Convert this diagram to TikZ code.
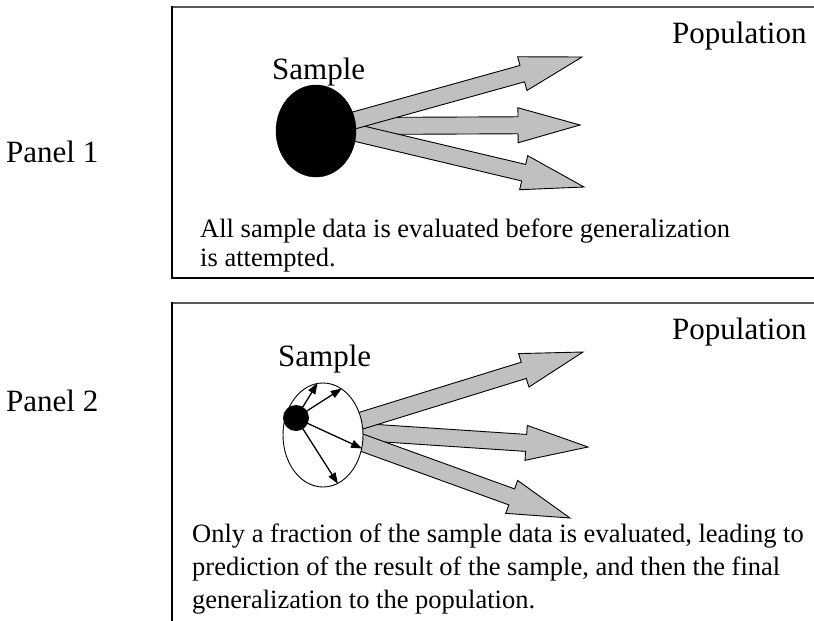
\documentclass[tikz,border=0pt]{standalone}
\usepackage{fontspec}
\setmainfont{Liberation Serif}
\usetikzlibrary{calc,arrows.meta,shapes.geometric}
\tikzset{
  fatarr/.style={draw=black, line width=0.9pt, fill=arrowgray, line join=miter},
  lbltxt/.style={anchor=base west, inner sep=0pt, font=\fontsize{31}{36}\selectfont},
  captxt/.style={anchor=base west, inner sep=0pt, font=\fontsize{26.5}{30}\selectfont},
  topline/.style={line width=2.2pt, draw=black!65},
  sideline/.style={line width=1.2pt, draw=black},
  thinarr/.style={line width=1.3pt, -{Triangle[length=11pt,width=8pt]}},
}
\definecolor{arrowgray}{HTML}{C0C0C0}
\newcommand\fatarrow[2]{%
  \coordinate (hb) at ($(#2)!62pt!(#1)$);
  \draw[fatarr] ($(#1)!8.5pt!90:(#2)$) -- ($(hb)!8.5pt!-90:(#1)$) -- ($(hb)!17.5pt!-90:(#1)$) -- (#2)
     -- ($(hb)!17.5pt!90:(#1)$) -- ($(hb)!8.5pt!90:(#1)$) -- ($(#1)!8.5pt!-90:(#2)$) -- cycle;}
\begin{document}
\begin{tikzpicture}[x=1pt,y=-1pt]
\useasboundingbox (0,0) rectangle (814,621);
% ---------- Panel 1 ----------
\node[lbltxt] (p1) at (6,162) {Panel 1};
\draw[topline] (172,7) -- (814,7);
\draw[sideline] (172,6) -- (172,278) -- (814,278);
\node[lbltxt] (pop1) at (672,43) {Population};
\node[lbltxt] (s1) at (272,79) {Sample};
\coordinate (a1s) at (352,121); \coordinate (a1t) at (582,57);
\coordinate (a2s) at (355,126); \coordinate (a2t) at (580,125);
\coordinate (a3s) at (352,132); \coordinate (a3t) at (584,187);
\fatarrow{a2s}{a2t}
\fatarrow{a3s}{a3t}
\fatarrow{a1s}{a1t}
\node[ellipse, fill=black, draw=black, minimum width=80pt, minimum height=92pt, inner sep=0pt] (e1) at (316,131) {};
\node[captxt] (c1a) at (200,237) {All sample data is evaluated before generalization};
\node[captxt] (c1b) at (200,266) {is attempted.};
% ---------- Panel 2 ----------
\node[lbltxt] (p2) at (6,411) {Panel 2};
\draw[topline] (172,303) -- (814,303);
\draw[sideline] (172,302) -- (172,621);
\node[lbltxt] (pop2) at (672,339) {Population};
\node[lbltxt] (s2) at (278,366) {Sample};
\coordinate (b1s) at (360,421); \coordinate (b1t) at (583,352);
\coordinate (b2s) at (362,432); \coordinate (b2t) at (588,447);
\coordinate (b3s) at (360,442); \coordinate (b3t) at (570,518);
\fatarrow{b2s}{b2t}
\fatarrow{b3s}{b3t}
\fatarrow{b1s}{b1t}
\node[ellipse, fill=white, draw=black, line width=0.9pt, minimum width=80pt, minimum height=104pt, inner sep=0pt] (e2) at (323,435) {};
\node[circle, fill=black, minimum size=26pt, inner sep=0pt] (dot) at (296,418) {};
\draw[thinarr] (dot.center) -- (e2.96);
\draw[thinarr] (dot.center) -- (e2.68);
\draw[thinarr] (dot.center) -- (e2.-19);
\draw[thinarr] (dot.center) -- (e2.-73);
\node[captxt] (c2a) at (192,542) {Only a fraction of the sample data is evaluated, leading to};
\node[captxt] (c2b) at (192,575) {prediction of the result of the sample, and then the final};
\node[captxt] (c2c) at (192,608) {generalization to the population.};
\end{tikzpicture}
\end{document}
